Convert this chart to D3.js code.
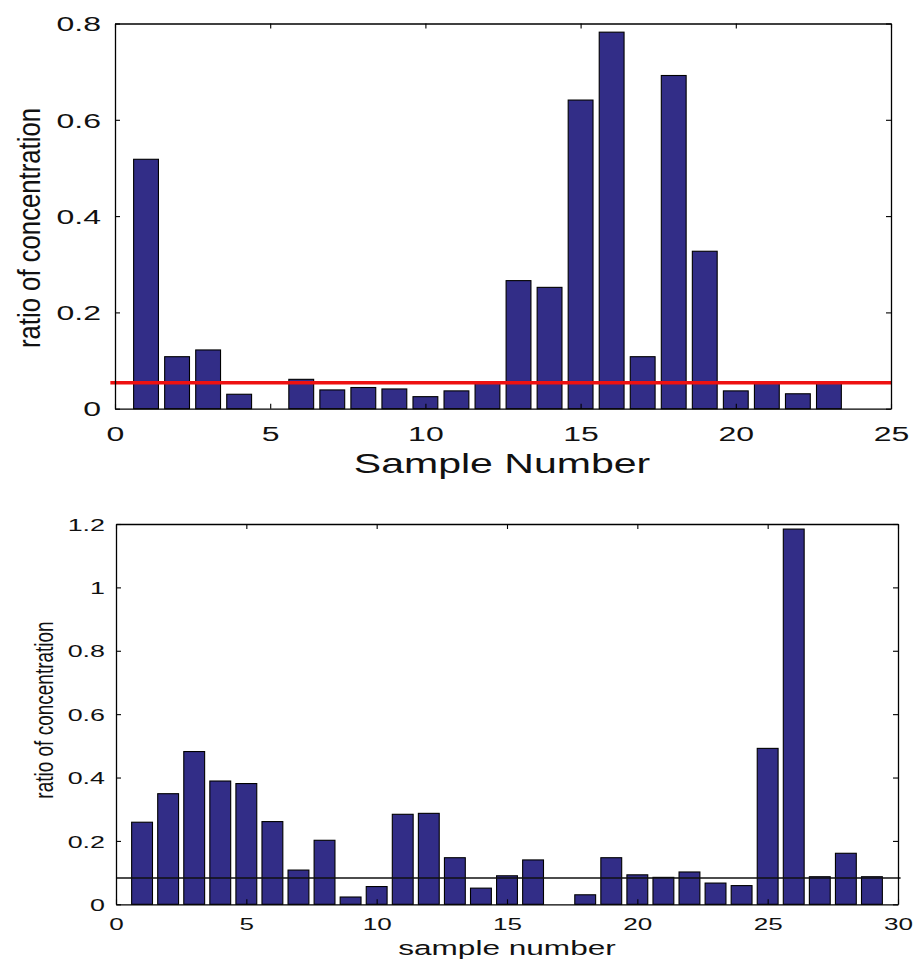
<!DOCTYPE html>
<html>
<head>
<meta charset="utf-8">
<script src="https://cdn.jsdelivr.net/npm/d3@7"></script>
<style>
  html, body { margin: 0; padding: 0; background: #ffffff; }
  svg { display: block; }
  text { font-family: "Liberation Sans", Arial, Helvetica, sans-serif; fill: #111; }
</style>
</head>
<body>
<svg id="chart" width="914" height="960"></svg>
<script>
// ---------- data ----------
const topSamples = [1,2,3,4,5,6,7,8,9,10,11,12,13,14,15,16,17,18,19,20,21,22,23];
const topValues = [0.518,0.108,0.122,0.030,0,0.061,0.039,0.044,0.041,0.025,0.037,0.053,0.266,0.252,0.641,0.782,0.108,0.692,0.327,0.037,0.055,0.031,0.055];
const topThreshold = 0.054;
const topXTicks = [0,5,10,15,20,25];
const topYTicks = [0,0.2,0.4,0.6,0.8];
const topXLabel = "Sample Number";
const topYLabel = "ratio of concentration";

const bottomSamples = [1,2,3,4,5,6,7,8,9,10,11,12,13,14,15,16,17,18,19,20,21,22,23,24,25,26,27,28,29];
const bottomValues = [0.259,0.349,0.482,0.389,0.381,0.261,0.108,0.202,0.023,0.056,0.284,0.287,0.147,0.051,0.090,0.140,0,0.030,0.147,0.093,0.085,0.102,0.067,0.059,0.492,1.184,0.087,0.161,0.087];
const bottomThreshold = 0.083;
const bottomXTicks = [0,5,10,15,20,25,30];
const bottomYTicks = [0,0.2,0.4,0.6,0.8,1,1.2];
const bottomXLabel = "sample number";
const bottomYLabel = "ratio of concentration";

// ---------- drawing ----------
const svg = d3.select("#chart");
const BAR_COLOR = "#322d87";

function drawChart(cfg) {
  const g = svg.append("g");
  const x = d3.scaleLinear().domain(cfg.xDomain).range([cfg.left, cfg.right]);
  const y = d3.scaleLinear().domain(cfg.yDomain).range([cfg.bottom, cfg.top]);
  const barW = x(0.8) - x(0);

  // bars
  g.selectAll("rect.bar").data(cfg.samples.map((s, i) => ({s, v: cfg.values[i]})).filter(d => d.v > 0))
    .join("rect").attr("class", "bar")
    .attr("x", d => x(d.s) - barW / 2)
    .attr("width", barW)
    .attr("y", d => y(d.v))
    .attr("height", d => y(0) - y(d.v))
    .attr("fill", BAR_COLOR)
    .attr("stroke", "#000")
    .attr("stroke-width", 1.1);

  // threshold line
  g.append("line")
    .attr("x1", x(cfg.lineFrom)).attr("x2", x(cfg.lineTo))
    .attr("y1", y(cfg.threshold)).attr("y2", y(cfg.threshold))
    .attr("stroke", cfg.lineColor).attr("stroke-width", cfg.lineWidth);

  // axes (inward ticks, box)
  const tk = 5;
  const fmt = d => String(d);
  const axB = g.append("g").attr("transform", `translate(0,${cfg.bottom})`)
    .call(d3.axisBottom(x).tickValues(cfg.xTicks).tickFormat(fmt).tickSizeInner(-tk).tickSizeOuter(0));
  const axT = g.append("g").attr("transform", `translate(0,${cfg.top})`)
    .call(d3.axisTop(x).tickValues(cfg.xTicks).tickFormat("").tickSizeInner(-tk).tickSizeOuter(0));
  const axL = g.append("g").attr("transform", `translate(${cfg.left},0)`)
    .call(d3.axisLeft(y).tickValues(cfg.yTicks).tickFormat(fmt).tickSizeInner(-tk).tickSizeOuter(0));
  const axR = g.append("g").attr("transform", `translate(${cfg.right},0)`)
    .call(d3.axisRight(y).tickValues(cfg.yTicks).tickFormat("").tickSizeInner(-tk).tickSizeOuter(0));

  [axB, axT, axL, axR].forEach(a => {
    a.select(".domain").attr("stroke", "#000").attr("stroke-width", 1.3);
    a.selectAll(".tick line").attr("stroke", "#000").attr("stroke-width", 1.1);
  });

  // style tick labels (stretched horizontally like the reference)
  axB.selectAll(".tick text")
    .attr("font-size", cfg.xTickFs)
    .attr("fill", "#111")
    .attr("text-anchor", "middle")
    .attr("dy", 0).attr("y", 0)
    .attr("transform", `translate(0,${cfg.xTickBaseline}) scale(${cfg.tickScale},1)`);
  axL.selectAll(".tick text")
    .attr("font-size", cfg.yTickFs)
    .attr("fill", "#111")
    .attr("text-anchor", "end")
    .attr("x", 0).attr("dy", "0.36em")
    .attr("transform", `translate(${-cfg.yTickGap},0) scale(${cfg.tickScale},1)`);

  // axis titles
  g.append("text")
    .attr("text-anchor", "middle")
    .attr("font-size", cfg.xLabelFs)
    .attr("transform", `translate(${cfg.xLabelX},${cfg.xLabelY}) scale(${cfg.xLabelScale},1)`)
    .text(cfg.xLabel);
  g.append("text")
    .attr("text-anchor", "middle")
    .attr("font-size", cfg.yLabelFs)
    .attr("transform", `translate(${cfg.yLabelX},${cfg.yLabelY}) rotate(-90) scale(${cfg.yLabelScale},1)`)
    .text(cfg.yLabel);
}

drawChart({
  samples: topSamples, values: topValues, threshold: topThreshold,
  xDomain: [0, 25], yDomain: [0, 0.8],
  left: 115, right: 891, top: 23.5, bottom: 408.7,
  xTicks: topXTicks, yTicks: topYTicks,
  lineFrom: -0.15, lineTo: 25, lineColor: "#ee1111", lineWidth: 3.5,
  xTickFs: 20, yTickFs: 20, tickScale: 1.6, xTickBaseline: 32, yTickGap: 14,
  xLabel: topXLabel, xLabelFs: 27, xLabelScale: 1.52, xLabelX: 502, xLabelY: 473,
  yLabel: topYLabel, yLabelFs: 31, yLabelScale: 0.83, yLabelX: 40, yLabelY: 228
});

drawChart({
  samples: bottomSamples, values: bottomValues, threshold: bottomThreshold,
  xDomain: [0, 30], yDomain: [0, 1.2],
  left: 116, right: 898, top: 524, bottom: 904.3,
  xTicks: bottomXTicks, yTicks: bottomYTicks,
  lineFrom: 0, lineTo: 30.1, lineColor: "#111", lineWidth: 1.5,
  xTickFs: 16.5, yTickFs: 17, tickScale: 1.58, xTickBaseline: 26, yTickGap: 11,
  xLabel: bottomXLabel, xLabelFs: 20.5, xLabelScale: 1.54, xLabelX: 507, xLabelY: 955,
  yLabel: bottomYLabel, yLabelFs: 25, yLabelScale: 0.76, yLabelX: 53, yLabelY: 710
});
</script>
</body>
</html>
